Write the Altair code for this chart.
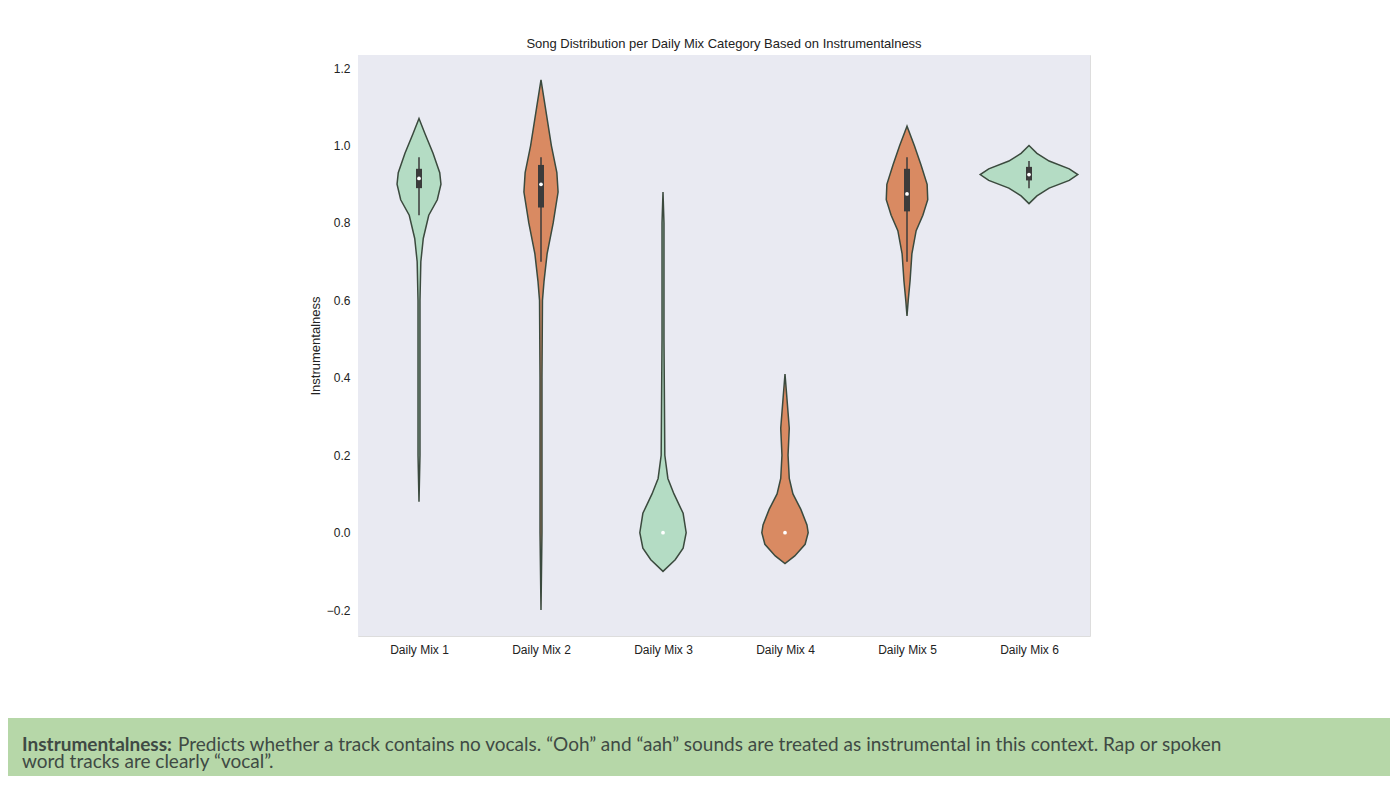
import altair as alt
import pandas as pd

categories = ["Daily Mix 1", "Daily Mix 2", "Daily Mix 3", "Daily Mix 4", "Daily Mix 5", "Daily Mix 6"]
fills = ["#b4dcc4", "#d98a62", "#b4dcc4", "#d98a62", "#d98a62", "#b4dcc4"]

# violin outlines: (instrumentalness level, half width in category units)
profiles = {
    "Daily Mix 1": [(1.07, 0), (1.03, .05), (0.98, .115), (0.93, .17), (0.90, .18), (0.86, .15), (0.82, .08),
                    (0.76, .035), (0.70, .015), (0.60, .008), (0.40, .008), (0.20, .008), (0.08, 0)],
    "Daily Mix 2": [(1.17, 0), (1.10, .035), (1.00, .085), (0.93, .13), (0.88, .14), (0.80, .10), (0.72, .05),
                    (0.65, .025), (0.60, .012), (0.40, .008), (0.0, .008), (-0.20, 0)],
    "Daily Mix 3": [(0.88, 0), (0.80, .008), (0.50, .008), (0.20, .015), (0.14, .04), (0.10, .09), (0.05, .165),
                    (0.0, .19), (-0.04, .165), (-0.07, .10), (-0.10, 0)],
    "Daily Mix 4": [(0.41, 0), (0.35, .015), (0.27, .035), (0.20, .025), (0.14, .035), (0.10, .065), (0.06, .13),
                    (0.02, .18), (0.0, .19), (-0.03, .165), (-0.06, .08), (-0.08, 0)],
    "Daily Mix 5": [(1.05, 0), (1.00, .06), (0.95, .115), (0.90, .165), (0.86, .17), (0.82, .13), (0.78, .075),
                    (0.72, .04), (0.65, .025), (0.60, .01), (0.56, 0)],
    "Daily Mix 6": [(1.00, 0), (0.98, .065), (0.96, .165), (0.94, .33), (0.925, .40), (0.91, .33), (0.89, .165),
                    (0.87, .065), (0.85, 0)],
}

# box stats: whisker low, q1, median, q3, whisker high
whisker_lo = [0.82, 0.70, 0.0, 0.0, 0.70, 0.89]
q1 = [0.89, 0.84, 0.0, 0.0, 0.83, 0.91]
median = [0.915, 0.90, 0.0, 0.0, 0.875, 0.925]
q3 = [0.94, 0.95, 0.0, 0.0, 0.94, 0.945]
whisker_hi = [0.97, 0.97, 0.0, 0.0, 0.97, 0.96]

rows = []
for i, cat in enumerate(categories):
    for level, w in sorted(profiles[cat]):
        rows.append({"cat": cat, "level": level, "lo": i - w, "hi": i + w})
violin_df = pd.DataFrame(rows)
box_df = pd.DataFrame({"cat": categories, "pos": range(6), "wlo": whisker_lo, "q1": q1,
                       "med": median, "q3": q3, "whi": whisker_hi})

label_expr = "[" + ",".join(f"'{c}'" for c in categories) + "][datum.value]"
x_scale = alt.Scale(domain=[-0.5, 5.5], nice=False, zero=False)
y_scale = alt.Scale(domain=[-0.267, 1.234], nice=False, zero=False)
x_axis = alt.Axis(values=list(range(6)), labelExpr=label_expr, title=None, grid=False, domain=False,
                  ticks=False, labelFontSize=12, labelPadding=8, labelColor="#222")
y_axis = alt.Axis(values=[-0.2, 0, 0.2, 0.4, 0.6, 0.8, 1.0, 1.2], format=".1f", grid=False, domain=False,
                  ticks=False, labelFontSize=12, labelPadding=8, labelColor="#222", title="Instrumentalness",
                  titleFontSize=13, titleFontWeight="normal", titleColor="#222")

one = alt.Chart(pd.DataFrame({"a": [0]}))
plot_bg = one.mark_rect(color="#e9eaf2").encode(x=alt.value(0), x2=alt.value(732),
                                                y=alt.value(0), y2=alt.value(581))

violins = alt.Chart(violin_df).mark_area(stroke="#3b4a3e", strokeWidth=1.5, orient="horizontal").encode(
    y=alt.Y("level:Q", scale=y_scale, axis=y_axis),
    x=alt.X("lo:Q", scale=x_scale, axis=x_axis),
    x2="hi:Q",
    color=alt.Color("cat:N", scale=alt.Scale(domain=categories, range=fills), legend=None),
)

base = alt.Chart(box_df)
whiskers = base.mark_rule(color="#3b3b3b", strokeWidth=1.5).encode(x="pos:Q", y="wlo:Q", y2="whi:Q")
iqr = base.mark_rule(color="#3b3b3b", strokeWidth=6).encode(x="pos:Q", y="q1:Q", y2="q3:Q")
med = base.mark_point(filled=True, color="white", size=14, opacity=1).encode(x="pos:Q", y="med:Q")

band = one.mark_rect(color="#b6d7a8").encode(x=alt.value(-366), x2=alt.value(1050),
                                             y=alt.value(663), y2=alt.value(740))
cap_bold = one.mark_text(align="left", baseline="middle", font="Lato", fontSize=19, fontWeight="bold",
                         color="#3f4a44").encode(x=alt.value(-336), y=alt.value(690),
                                                 text=alt.value("Instrumentalness:"))
cap1 = one.mark_text(align="left", baseline="middle", font="Lato", fontSize=19, color="#3f4a44").encode(
    x=alt.value(-180), y=alt.value(690),
    text=alt.value("Predicts whether a track contains no vocals. \u201cOoh\u201d and \u201caah\u201d sounds are "
                   "treated as instrumental in this context. Rap or spoken"))
cap2 = one.mark_text(align="left", baseline="middle", font="Lato", fontSize=19, color="#3f4a44").encode(
    x=alt.value(-336), y=alt.value(707), text=alt.value("word tracks are clearly \u201cvocal\u201d."))

chart = alt.layer(plot_bg, band, violins, whiskers, iqr, med, cap_bold, cap1, cap2).properties(
    width=732, height=581, padding={"left": 350, "top": 47, "right": 300, "bottom": 140},
    autosize=alt.AutoSizeParams(type="none"),
    title=alt.TitleParams("Song Distribution per Daily Mix Category Based on Instrumentalness",
                          fontSize=13, fontWeight="normal", font="Liberation Sans", color="#222", offset=4),
).configure_view(stroke=None).configure(font="Liberation Sans", background="white")

chart.save("out.html", embed_options={"renderer": "svg", "actions": False})
